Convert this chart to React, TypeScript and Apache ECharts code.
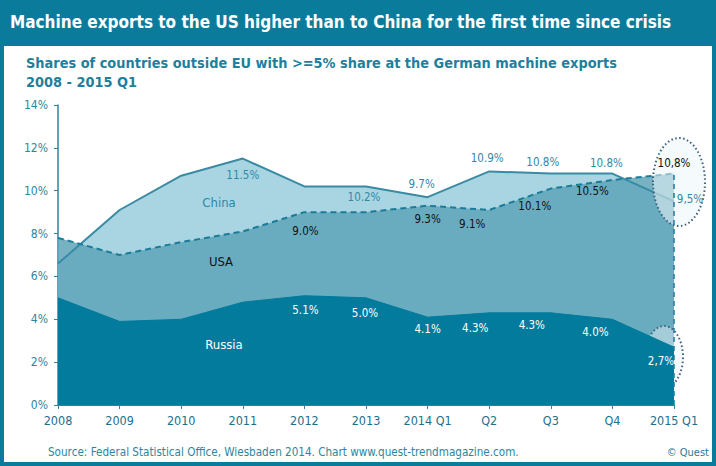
import React, { useEffect, useRef } from "react";
import * as echarts from "echarts";

const categories = ["2008", "2009", "2010", "2011", "2012", "2013", "2014 Q1", "Q2", "Q3", "Q4", "2015 Q1"];
const china = [6.6, 9.1, 10.7, 11.5, 10.2, 10.2, 9.7, 10.9, 10.8, 10.8, 9.5];
const usa = [7.8, 7.0, 7.6, 8.1, 9.0, 9.0, 9.3, 9.1, 10.1, 10.5, 10.8];
const russia = [5.0, 3.9, 4.0, 4.8, 5.1, 5.0, 4.1, 4.3, 4.3, 4.0, 2.7];
const yTicks = [0, 2, 4, 6, 8, 10, 12, 14];

const TITLE = "Machine exports to the US higher than to China for the first time since crisis";
const SUBTITLE1 = "Shares of countries outside EU with >=5% share at the German machine exports";
const SUBTITLE2 = "2008 - 2015 Q1";
const SOURCE = "Source: Federal Statistical Office, Wiesbaden 2014. Chart www.quest-trendmagazine.com.";
const COPY = "\u00a9 Quest";

// label layout: index -> [dx, dy]
const chinaLabelPos: Record<number, [number, number]> = {
  3: [0, 16], 5: [-2, 11], 6: [-6, -13], 7: [-2, -13], 8: [-8, -12], 9: [-6, -11], 10: [16, -2],
};
const usaLabelPos: Record<number, [number, number]> = {
  4: [1, 19], 6: [0, 13], 7: [-17, 14], 8: [-16, 17], 9: [-20, 11], 10: [0, -11],
};
const russiaLabelPos: Record<number, [number, number]> = {
  4: [1, 14], 5: [-1, 15], 6: [0, 12], 7: [-14, 15], 8: [-19, 12], 9: [-17, 13], 10: [-13, 14],
};

const FONT = "'DejaVu Sans Condensed', 'DejaVu Sans', sans-serif";
const FRAME = "#0b7b9b";
const AXIS = "#2a86a3";

function fmt(v: number, i: number) {
  const s = v.toFixed(1) + "%";
  return i === categories.length - 1 ? s.replace(".", ",") : s;
}

function labelData(values: number[], pos: Record<number, [number, number]>, color: string) {
  return values.map((v, i) => {
    const p = pos[i];
    return {
      value: v,
      label: p
        ? { show: true, position: "inside", offset: p, formatter: fmt(v, i), color, fontSize: 11.5, fontFamily: FONT }
        : { show: false },
    };
  });
}

function labelSeries(values: number[], pos: Record<number, [number, number]>, color: string) {
  return {
    type: "line",
    data: labelData(values, pos, color),
    z: 10,
    silent: true,
    symbol: "circle",
    symbolSize: 1,
    showSymbol: true,
    itemStyle: { color: "rgba(0,0,0,0)" },
    lineStyle: { opacity: 0, width: 0 },
    emphasis: { disabled: true },
  };
}

export default function App() {
  const ref = useRef<HTMLDivElement>(null);
  useEffect(() => {
    if (!ref.current) return;
    const chart = echarts.init(ref.current, null, { renderer: "svg" });
    const last = categories[categories.length - 1];
    const option: any = {
      animation: false,
      backgroundColor: FRAME,
      grid: { left: 58, right: 42, top: 105, bottom: 61, containLabel: false },
      xAxis: {
        type: "category",
        data: categories,
        boundaryGap: false,
        axisLine: { show: true, lineStyle: { color: AXIS, width: 1 } },
        axisTick: { show: true, alignWithLabel: true, length: 4, lineStyle: { color: AXIS } },
        axisLabel: { color: "#1c6f8c", fontSize: 12.5, fontFamily: FONT, margin: 9, interval: 0 },
        splitLine: { show: false },
      },
      yAxis: {
        type: "value",
        min: yTicks[0],
        max: yTicks[yTicks.length - 1],
        interval: 2,
        axisLine: { show: true, lineStyle: { color: AXIS, width: 1.5 } },
        axisTick: { show: true, length: 4, lineStyle: { color: AXIS } },
        axisLabel: { color: AXIS, fontSize: 12, fontFamily: FONT, margin: 10, formatter: "{value}%" },
        splitLine: { show: false },
      },
      series: [
        {
          name: "China",
          type: "line",
          data: china,
          z: 2,
          symbol: "none",
          lineStyle: { color: "#3a8aa3", width: 2 },
          areaStyle: { color: "#a9d5e2", opacity: 1 },
          emphasis: { disabled: true },
        },
        {
          name: "USA",
          type: "line",
          data: usa,
          z: 2,
          symbol: "none",
          lineStyle: { color: "#1b7b98", width: 2, type: [6, 4] },
          areaStyle: { color: "#5fa4b9", opacity: 0.85 },
          emphasis: { disabled: true },
          markLine: {
            silent: true,
            symbol: "none",
            label: { show: false },
            lineStyle: { color: "#1b7b98", width: 1.5, type: [5, 4] },
            data: [[{ coord: [last, 0] }, { coord: [last, usa[usa.length - 1]] }]],
          },
        },
        {
          name: "Russia",
          type: "line",
          data: russia,
          z: 4,
          symbol: "none",
          lineStyle: { color: "#027b9c", width: 1 },
          areaStyle: { color: "#027b9c", opacity: 1 },
          emphasis: { disabled: true },
        },
        labelSeries(china, chinaLabelPos, "#2f8aa8"),
        labelSeries(usa, usaLabelPos, "#111111"),
        labelSeries(russia, russiaLabelPos, "#ffffff"),
      ],
      graphic: [
        { type: "rect", z: -5, shape: { x: 4, y: 46, width: 708, height: 416 }, style: { fill: "#ffffff" } },
        {
          type: "text", z: 10, x: 10, y: 22,
          style: { text: TITLE, fill: "#ffffff", font: `bold 17px ${FONT}`, verticalAlign: "middle" },
        },
        {
          type: "text", z: 10, x: 26, y: 63,
          style: { text: SUBTITLE1, fill: "#1f7f9c", font: `bold 14.4px ${FONT}`, verticalAlign: "middle" },
        },
        {
          type: "text", z: 10, x: 26, y: 82,
          style: { text: SUBTITLE2, fill: "#1f7f9c", font: `bold 14.4px ${FONT}`, verticalAlign: "middle" },
        },
        {
          type: "text", z: 10, x: 219, y: 202,
          style: { text: "China", fill: "#2f87a5", font: `13px ${FONT}`, align: "center", verticalAlign: "middle" },
        },
        {
          type: "text", z: 10, x: 221, y: 261,
          style: { text: "USA", fill: "#111111", font: `13px ${FONT}`, align: "center", verticalAlign: "middle" },
        },
        {
          type: "text", z: 10, x: 224, y: 344,
          style: { text: "Russia", fill: "#ffffff", font: `13px ${FONT}`, align: "center", verticalAlign: "middle" },
        },
        {
          type: "ellipse", z: 3,
          shape: { cx: 679, cy: 182, rx: 26, ry: 44 },
          style: { fill: "rgba(236,245,249,0.55)", stroke: "#3d5f7e", lineWidth: 2, lineDash: [1.5, 2.5] },
        },
        {
          type: "ellipse", z: 3,
          shape: { cx: 664, cy: 357, rx: 19, ry: 31 },
          style: { fill: "rgba(236,245,249,0.45)", stroke: "#3d5f7e", lineWidth: 2, lineDash: [1.5, 2.5] },
        },
        {
          type: "text", z: 10, x: 48, y: 452,
          style: { text: SOURCE, fill: "#2a86a3", font: `11.6px ${FONT}`, verticalAlign: "middle" },
        },
        {
          type: "text", z: 10, x: 709, y: 452,
          style: { text: COPY, fill: "#2a7890", font: `11px ${FONT}`, align: "right", verticalAlign: "middle" },
        },
      ],
    };
    chart.setOption(option);
    return () => chart.dispose();
  }, []);
  return <div ref={ref} style={{ position: "fixed", left: 0, top: 0, width: 716, height: 466 }} />;
}
